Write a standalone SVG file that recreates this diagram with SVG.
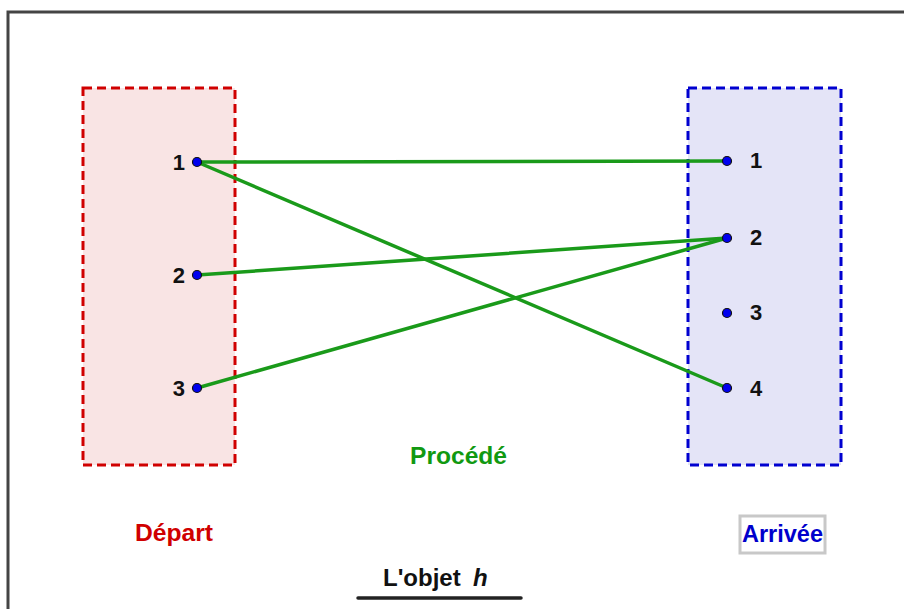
<svg xmlns="http://www.w3.org/2000/svg" width="904" height="609" viewBox="0 0 904 609">
<style>
.lbl{font-family:"Liberation Sans",Arial,sans-serif;font-weight:bold;font-size:22px;fill:#111}
.title{font-family:"Liberation Sans",Arial,sans-serif;font-weight:bold;font-size:24px}
.pt{fill:#0000ee;stroke:#111;stroke-width:1.2}
.edge{stroke:#1a9a1a;stroke-width:3.5;fill:none;stroke-linecap:round}
</style>
<rect x="0" y="0" width="904" height="609" fill="#fff"/>
<path d="M8 620 V12 H910" fill="none" stroke="#444" stroke-width="3"/>
<g id="depart">
<rect x="83" y="88" width="152" height="377" fill="#f9e4e4" stroke="#d00000" stroke-width="3" stroke-dasharray="9,5"/>
<text class="title" x="135" y="541" fill="#d00000" textLength="78" lengthAdjust="spacingAndGlyphs">Départ</text>
</g>
<g id="arrivee">
<rect x="740" y="516" width="85" height="37" fill="#fff" stroke="#c8c8c8" stroke-width="3"/>
<rect x="688" y="88" width="153" height="377" fill="#e4e4f7" stroke="#0000d0" stroke-width="3" stroke-dasharray="9,5"/>
<text class="title" x="742" y="542" fill="#0000cc" textLength="81" lengthAdjust="spacingAndGlyphs">Arrivée</text>
</g>
<g id="connectors">
<line class="edge" x1="197" y1="162" x2="727" y2="161"/>
<line class="edge" x1="197" y1="162" x2="727" y2="388"/>
<line class="edge" x1="197" y1="275" x2="727" y2="238"/>
<line class="edge" x1="197" y1="388" x2="727" y2="238"/>
</g>
<g id="d1"><circle class="pt" cx="197" cy="162" r="4.5"/><text class="lbl" x="185" y="170" text-anchor="end">1</text></g>
<g id="d2"><circle class="pt" cx="197" cy="275" r="4.5"/><text class="lbl" x="185" y="283" text-anchor="end">2</text></g>
<g id="d3"><circle class="pt" cx="197" cy="388" r="4.5"/><text class="lbl" x="185" y="396" text-anchor="end">3</text></g>
<g id="a1"><circle class="pt" cx="727" cy="161" r="4.5"/><text class="lbl" x="750" y="168">1</text></g>
<g id="a2"><circle class="pt" cx="727" cy="238" r="4.5"/><text class="lbl" x="750" y="245">2</text></g>
<g id="a3"><circle class="pt" cx="727" cy="313" r="4.5"/><text class="lbl" x="750" y="320">3</text></g>
<g id="a4"><circle class="pt" cx="727" cy="388" r="4.5"/><text class="lbl" x="750" y="396">4</text></g>
<g id="procede"><text class="title" x="410" y="464" fill="#119911" textLength="97" lengthAdjust="spacingAndGlyphs">Procédé</text></g>
<g id="objet">
<text class="title" x="383" y="586" fill="#111">L'objet <tspan x="473" font-style="italic">h</tspan></text>
<line x1="358" y1="598" x2="521" y2="598" stroke="#222" stroke-width="3.5" stroke-linecap="round"/>
</g>
</svg>
